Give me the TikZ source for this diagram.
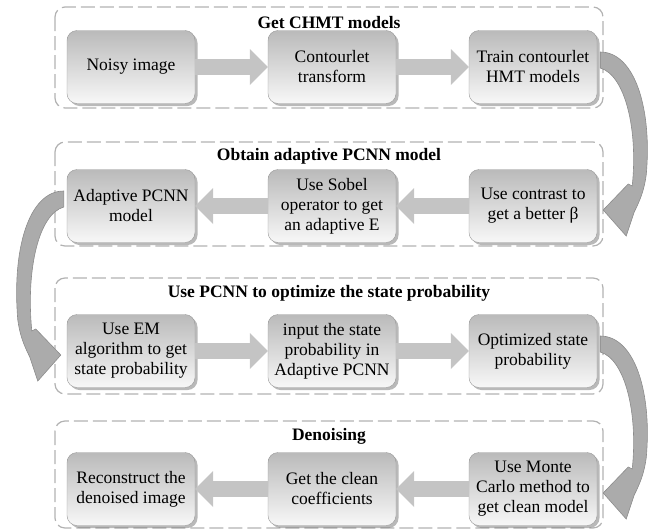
\documentclass[tikz,border=0pt]{standalone}
\usepackage{fontspec}
\setmainfont{Liberation Serif}
\usetikzlibrary{arrows.meta,shadows,calc}

% curved arrow between two rows: start anchor, end anchor, side (1 right, -1 left)
\newcommand{\bendarrow}[3]{%
  \path[curvearrow] ($(#1)+(#3*3,-15)$) .. controls ($(#1)+(#3*38,-15)$) and ($(#1)+(#3*55,43)$) .. ($(#2)+(#3*49,-31)$)
    .. controls ($(#2)+(#3*47,-16)$) and ($(#2)+(#3*43,-6)$) .. ($(#2)+(#3*37,6)$)
    -- ($(#2)+(#3*29,30)$) -- ($(#2)+(#3*6,4)$) -- ($(#2)+(#3*31,-22)$) -- ($(#2)+(#3*35,-20)$)
    .. controls ($(#1)+(#3*41,63)$) and ($(#1)+(#3*28,8)$) .. ($(#1)+(#3*3,1)$) -- cycle;}

\begin{document}
\begin{tikzpicture}[
        x=1pt, y=-1pt,
        stage/.style={rectangle, rounded corners=10pt, minimum width=128pt, minimum height=73pt,
            draw=black!40, top color=black!27, bottom color=black!3,
            drop shadow={shadow xshift=2.5pt, shadow yshift=-2.5pt, fill=black!55},
            align=center, inner sep=2pt, font=\fontsize{17.5}{20}\selectfont},
        group/.style={draw=black!30, line width=1.2pt, dash pattern=on 14pt off 5pt, rounded corners=10pt},
        title/.style={font=\fontsize{17.5}{20}\selectfont\bfseries},
        flow/.style={line width=16pt, black!23, -{Triangle[length=18pt, width=36pt, line width=0pt]}},
        curvearrow/.style={fill=black!33, draw=black!45, line width=0.6pt}
    ]
        \useasboundingbox (0,0) rectangle (655,530);

        % groups
        \draw[group] (55,7) rectangle (603,108);
        \draw[group] (55,142) rectangle (603,246);
        \draw[group] (55,278) rectangle (603,394);
        \draw[group] (55,421) rectangle (603,528);
        \node[title] (g1) at (329,23) {Get CHMT models};
        \node[title] (g2) at (329,156) {Obtain adaptive PCNN model};
        \node[title] (g3) at (329,293) {Use PCNN to optimize the state probability};
        \node[title] (g4) at (329,436) {Denoising};

        % stages
        \node[stage] (ni) at (131,67) {Noisy image};
        \node[stage] (ct) at (332,67) {Contourlet\\transform};
        \node[stage] (tc) at (533,67) {Train contourlet\\HMT models};
        \node[stage] (uc) at (533,206) {Use contrast to\\get a better β};
        \node[stage] (us) at (332,206) {Use Sobel\\operator to get\\an adaptive E};
        \node[stage] (ap) at (131,206) {Adaptive PCNN\\model};
        \node[stage] (em) at (131,351) {Use EM\\algorithm to get\\state probability};
        \node[stage] (ip) at (332,351) {input the state\\probability in\\Adaptive PCNN};
        \node[stage] (os) at (533,351) {Optimized state\\probability};
        \node[stage] (mc) at (533,489) {Use Monte\\Carlo method to\\get clean model};
        \node[stage] (gc) at (332,489) {Get the clean\\coefficients};
        \node[stage] (rd) at (131,489) {Reconstruct the\\denoised image};

        % flow inside groups
        \draw[flow] (ni) -- (ct);
        \draw[flow] (ct) -- (tc);
        \draw[flow] (uc) -- (us);
        \draw[flow] (us) -- (ap);
        \draw[flow] (em) -- (ip);
        \draw[flow] (ip) -- (os);
        \draw[flow] (mc) -- (gc);
        \draw[flow] (gc) -- (rd);

        % between groups
        \bendarrow{tc.east}{uc.east}{1}
        \bendarrow{ap.west}{em.west}{-1}
        \bendarrow{os.east}{mc.east}{1}
    \end{tikzpicture}
\end{document}
